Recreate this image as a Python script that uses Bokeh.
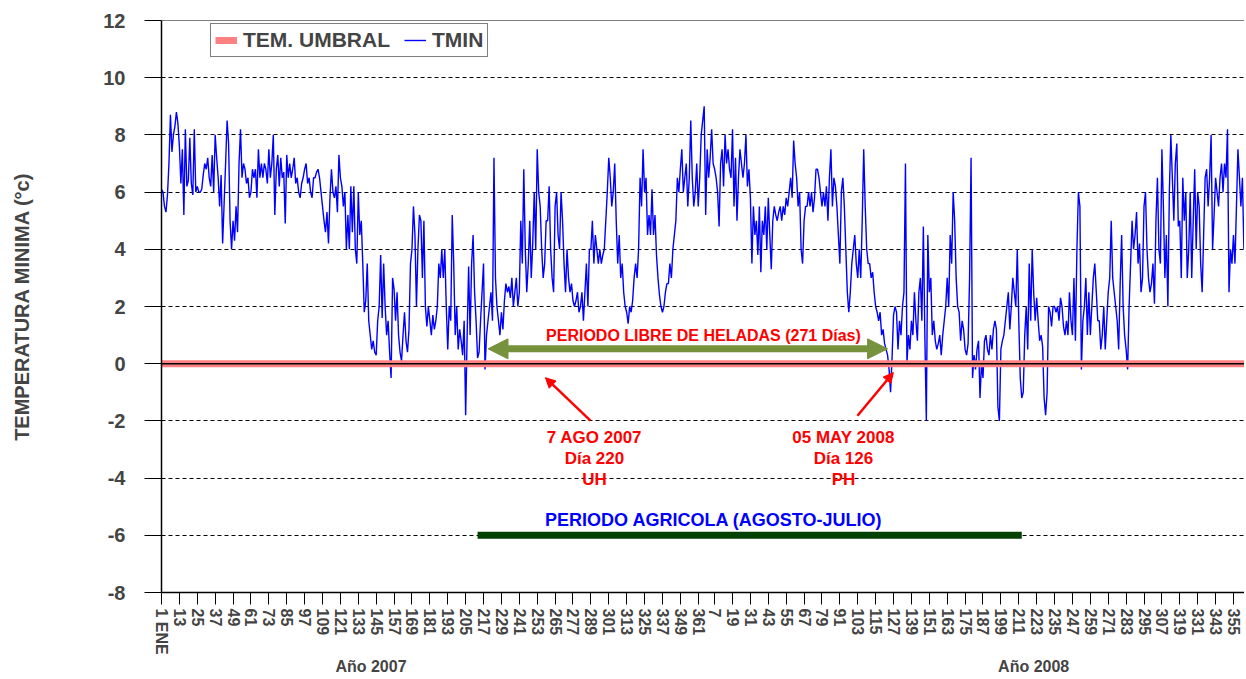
from bokeh.plotting import figure
from bokeh.models import (Range1d, FixedTicker, Legend, LegendItem, Label,
                          Arrow, NormalHead, LinearAxis, Span)
from bokeh.embed import file_html
from bokeh.resources import INLINE

# ---------------- data ----------------
TMIN_2007 = [
    6.1, 6.0, 5.5, 5.3, 5.9, 7.0, 8.7, 7.4, 8.0, 8.3,
    8.8, 8.4, 7.6, 6.3, 7.5, 5.2, 8.2, 6.2, 6.4, 7.9,
    6.3, 5.9, 8.2, 6.0, 6.2, 6.0, 6.0, 6.1, 6.6, 7.0,
    6.8, 7.2, 6.5, 6.2, 7.3, 6.0, 8.0, 7.2, 6.5, 5.5,
    6.6, 4.2, 5.6, 7.0, 8.5, 7.7, 5.0, 4.0, 5.0, 4.3,
    5.5, 4.6, 7.0, 8.2, 6.5, 7.0, 6.8, 6.3, 6.5, 5.8,
    6.0, 6.8, 6.5, 6.8, 5.8, 7.5, 6.5, 7.0, 6.5, 7.0,
    6.8, 6.3, 7.5, 6.5, 7.0, 8.0, 5.2, 6.8, 7.3, 6.2,
    7.2, 6.5, 6.7, 4.9, 7.3, 6.5, 7.0, 6.5, 6.8, 7.2,
    6.3, 6.5, 6.0, 5.8, 6.3, 6.5, 6.8, 7.0, 6.3, 6.5,
    6.0, 5.8, 6.5, 6.5, 6.7, 6.8, 6.5, 6.0, 5.5, 5.0,
    4.6, 5.3, 4.2, 5.8, 6.8, 6.0, 5.8, 6.2, 5.3, 7.3,
    6.5, 6.2, 5.5, 6.0, 4.0, 5.2, 4.0, 6.2, 4.6, 6.2,
    4.0, 3.5, 6.0, 4.5, 5.0, 3.5, 1.8, 2.2, 3.5, 1.5,
    1.0, 0.5, 0.8, 0.4, 0.3, 1.5, 2.0, 3.8, 1.6, 3.5,
    2.0, 1.0, 1.5, 0.4, -0.5, 3.0, 2.6, 1.5, 2.5, 1.0,
    0.4, 0.1, 1.0, 1.8, 0.8, 0.4, 1.2, 3.5, 4.0, 5.5,
    4.5, 2.0, 4.0, 5.2, 5.0, 3.0, 5.0, 2.0, 1.3, 2.0,
    1.5, 1.0, 1.7, 1.2, 1.5, 2.0, 3.5, 3.0, 4.0, 3.0,
    4.0, 2.0, 0.5, 2.0, 1.5, 5.2, 3.5, 1.0, 2.0, 0.5,
    1.2, 0.8, 0.3, 1.5, -1.8, 1.0, 3.4, 1.0, 3.5, 4.5,
    2.5, 1.5, 0.2, 0.4, 1.5, 2.5, 3.5, -0.2, 1.0, 1.5,
    2.0, 2.5, 1.5, 7.2, 3.0, 2.0, 1.5, 1.0, 1.8, 1.2,
    2.2, 2.8, 2.5, 2.7, 2.3, 3.0, 2.0, 2.5, 3.0, 2.0,
    2.5, 5.0, 3.5, 6.8, 4.0, 2.5, 3.5, 5.0, 3.0, 4.2,
    6.0, 4.0, 7.5, 6.0, 5.5, 4.0, 3.0, 3.5, 5.0, 5.0,
    6.2, 4.0, 3.0, 2.5, 5.5, 6.0, 4.5, 4.0, 6.0, 5.0,
    3.5, 2.5, 4.0, 3.0, 2.5, 2.8, 2.2, 2.0, 2.2, 2.5,
    1.8, 2.0, 2.5, 1.5, 2.5, 3.5, 2.0, 4.0, 4.0, 5.0,
    3.5, 4.5, 4.0, 3.5, 4.0, 3.5, 3.8, 4.0, 5.0, 6.0,
    7.2, 6.5, 5.5, 6.0, 7.0, 5.0, 3.5, 4.5, 3.0, 3.5,
    2.5, 2.0, 1.8, 1.4, 2.0, 1.8, 2.2, 3.0, 3.5, 3.0,
    4.0, 6.5, 5.5, 7.5, 6.0, 6.5, 4.5, 5.2, 4.5, 6.1,
    4.5, 5.2, 3.8, 3.0, 2.4, 2.0, 1.8, 2.0, 2.5, 2.8,
    2.8, 3.5, 3.0, 4.0, 4.5, 5.0, 6.5, 6.0, 6.8, 7.5,
    6.0, 6.5, 7.0, 5.5, 6.5, 8.5, 6.5, 5.5, 6.0, 7.0,
    5.5, 6.5, 8.0, 8.5, 9.0,
]
TMIN_2008 = [
    5.2, 7.5, 6.5, 7.2, 8.2,
    7.0, 6.8, 6.5, 6.0, 4.8, 7.0, 7.5, 6.2, 8.0, 7.0,
    7.5, 6.8, 6.5, 8.2, 5.5, 7.2, 5.0, 6.5, 7.5, 7.0,
    6.5, 7.0, 8.0, 6.2, 6.8, 5.8, 3.5, 5.5, 4.5, 5.0,
    3.8, 5.5, 3.2, 5.0, 4.5, 5.5, 4.0, 5.8, 4.5, 3.3,
    5.0, 5.5, 5.2, 5.0, 5.3, 5.5, 5.0, 5.5, 5.2, 5.8,
    5.5, 6.0, 6.5, 5.8, 7.8, 7.0, 6.5, 5.5, 6.0, 4.0,
    3.5, 5.0, 5.5, 5.5, 6.0, 5.5, 6.0, 5.3, 5.8, 6.8,
    6.8, 6.5, 6.0, 5.5, 6.0, 5.5, 6.2, 5.0, 6.5, 7.5,
    5.5, 6.5, 6.2, 5.5, 4.5, 3.5, 6.0, 6.5, 5.5, 4.0,
    2.5, 1.8, 2.5, 3.5, 4.0, 4.5, 3.5, 3.0, 4.0, 3.0,
    5.0, 7.5, 5.5, 4.0, 3.5, 3.5, 3.0, 3.2, 2.5, 2.0,
    1.8, 1.5, 1.8, 1.0, 1.2, 0.7, 0.5, 0.3, -0.2, -1.0,
    0.2, 1.7, 2.0, 1.8, 0.5, 1.5, 1.0, 2.0, 2.5, 7.0,
    0.0, 1.0, 0.5, 1.5, 1.0, 2.5, 1.5, 0.8, 2.5, 3.0,
    1.5, 4.8, 1.0, -2.0, 4.5, 2.5, 3.0, 1.0, 1.5, 0.8,
    0.5, 0.7, 1.0, 0.3, 1.0, 1.5, 2.0, 3.0, 2.0, 4.5,
    3.5, 6.0, 5.0, 3.0, 2.0, 1.8, 0.8, 1.5, 1.2, 0.5,
    0.3, 0.7, 3.0, 7.2, -0.5, 0.3, -0.2, 0.5, 0.8, -1.2,
    0.0, -0.5, 0.8, 1.0, 0.5, 0.3, 1.0, 0.5, 1.2, 1.5,
    1.2, -1.5, -2.0, 0.5, 0.8, 1.0, 1.5, 2.0, 2.5, 1.2,
    2.0, 3.0, 2.5, 2.0, 4.0, 1.5, -0.5, -1.2, -1.0, 1.0,
    2.0, 0.5, 3.5, 1.5, 4.0, 2.5, 1.5, 2.3, 1.5, 0.8,
    1.0, 0.6, -1.2, -1.8, -1.0, 2.0, 1.8, 1.3, 2.0, 2.0,
    1.8, 2.0, 1.5, 2.3, 2.0, 1.3, 1.0, 1.5, 1.0, 2.5,
    1.5, 1.0, 3.0, 0.8, 4.0, 6.0, 5.5, -0.2, 1.5, 2.0,
    3.0, 1.0, 2.5, 1.0, 2.0, 3.0, 3.5, 2.5, 1.5, 1.5,
    0.5, 1.0, 2.0, 0.5, 1.5, 2.5, 3.0, 5.0, 3.0, 2.5,
    2.0, 1.5, 0.5, 2.8, 4.5, 2.0, 1.0, 0.5, -0.2, 2.0,
    3.5, 5.0, 4.0, 4.5, 5.3, 3.5, 4.2, 2.5, 3.0, 5.5,
    6.0, 4.0, 3.0, 2.5, 2.8, 3.5, 2.1, 5.0, 6.5, 4.0,
    3.5, 7.5, 5.5, 3.0, 4.5, 2.0, 6.0, 8.0, 6.5, 5.0,
    7.0, 7.7, 4.8, 5.0, 3.0, 6.5, 5.0, 6.0, 3.0, 4.0,
    6.0, 3.0, 5.0, 6.8, 4.0, 6.0, 5.5, 3.5, 2.5, 4.5,
    6.5, 6.8, 5.5, 6.5, 8.0, 4.0, 5.2, 6.5, 6.0, 5.5,
    6.5, 7.0, 6.0, 7.0, 6.5, 8.2, 2.5, 4.0, 3.5, 4.5,
    3.5, 5.5, 7.5, 6.5, 5.5, 6.5, 4.0, 6.0, 5.0, 3.5,
    6.0,
]
TMIN = TMIN_2007 + TMIN_2008
DAYS = list(range(1, len(TMIN) + 1))

UMBRAL_X = [1, len(TMIN)]
UMBRAL_Y = [0.0, 0.0]

TICKS_2007 = list(range(1, 366, 12))        # 1, 13, ..., 361
TICKS_2008 = list(range(7, 366, 12))        # 7, 19, ..., 355
TICK_POS = TICKS_2007 + [365 + d for d in TICKS_2008]
TICK_LABELS = ["1 ENE"] + [str(d) for d in TICKS_2007[1:]] + [str(d) for d in TICKS_2008]

YEAR_POS = [143, 586]
YEAR_LABELS = ["Año  2007", "Año 2008"]

Y_TICKS = list(range(-8, 13, 2))
Y_LABELS = [str(v) for v in Y_TICKS]
GRID_TICKS = [-6, -4, -2, 2, 4, 6, 8, 10]

# frost-free period and agricultural period (days)
LIBRE_START, LIBRE_END = 220, 488
AGRIC_START, AGRIC_END = 213, 578

FONT = "Liberation Sans"

p = figure(width=1244, height=677, x_range=Range1d(1, 727.4), y_range=Range1d(-8, 12),
           output_backend="svg", toolbar_location=None,
           min_border_left=161, min_border_top=20, min_border_right=0, min_border_bottom=84)
p.background_fill_color = "white"
p.border_fill_color = "white"
p.outline_line_color = None
p.add_layout(Span(location=12, dimension="width", line_color="black", line_width=1))

# grid
p.xgrid.visible = False
p.ygrid.ticker = FixedTicker(ticks=GRID_TICKS)
p.ygrid.grid_line_color = "black"
p.ygrid.grid_line_dash = "4 3"
p.ygrid.grid_line_width = 1

# y axis
p.yaxis.ticker = FixedTicker(ticks=Y_TICKS)
p.yaxis.major_label_overrides = {t: l for t, l in zip(Y_TICKS, Y_LABELS)}
p.yaxis.major_tick_out = 17
p.yaxis.major_tick_in = 0
p.yaxis.minor_tick_out = 0
p.yaxis.minor_tick_in = 0
p.yaxis.axis_line_color = "black"
p.yaxis.axis_line_width = 1.5
p.yaxis.major_tick_line_width = 1
p.yaxis.major_label_text_font = FONT
p.yaxis.major_label_text_font_style = "bold"
p.yaxis.major_label_text_font_size = "20px"
p.yaxis.major_label_standoff = 19
p.yaxis.axis_label = "TEMPERATURA MINIMA (°c)"
p.yaxis.axis_label_text_font = FONT
p.yaxis.axis_label_text_font_style = "bold"
p.yaxis.axis_label_text_font_size = "20px"
p.yaxis.axis_label_standoff = 67

# x axis
p.xaxis.ticker = FixedTicker(ticks=TICK_POS)
p.xaxis.major_label_overrides = {t: l for t, l in zip(TICK_POS, TICK_LABELS)}
p.xaxis.major_label_orientation = "vertical"
p.xaxis.major_tick_out = 12
p.xaxis.major_tick_in = 0
p.xaxis.minor_tick_out = 0
p.xaxis.minor_tick_in = 0
p.xaxis.axis_line_color = "black"
p.xaxis.axis_line_width = 1.5
p.xaxis.major_label_text_font = FONT
p.xaxis.major_label_text_font_style = "bold"
p.xaxis.major_label_text_font_size = "16px"
p.xaxis.major_label_standoff = 4

# second axis below carrying the year labels
year_axis = LinearAxis(ticker=FixedTicker(ticks=YEAR_POS),
                       major_label_overrides={t: l for t, l in zip(YEAR_POS, YEAR_LABELS)})
year_axis.axis_line_color = None
year_axis.major_tick_line_color = None
year_axis.minor_tick_line_color = None
year_axis.major_tick_out = 0
year_axis.major_tick_in = 0
year_axis.major_label_standoff = 0
year_axis.major_label_text_font = FONT
year_axis.major_label_text_font_style = "bold"
year_axis.major_label_text_font_size = "16px"
p.add_layout(year_axis, "below")

# series
r_tmin = p.line(DAYS, TMIN, line_color="#0000FF", line_width=1.4)
r_umbral = p.line(UMBRAL_X, UMBRAL_Y, line_color="#FF8080", line_width=7)
p.line(UMBRAL_X, UMBRAL_Y, line_color="black", line_width=1.5)

# agricultural period bar
p.line([AGRIC_START, AGRIC_END], [-6, -6], line_color="#004000", line_width=7)
p.add_layout(Label(x=371.5, y=-5.48, text="PERIODO AGRICOLA (AGOSTO-JULIO)",
                   text_align="center", text_baseline="middle", text_color="#0000FF",
                   text_font=FONT, text_font_style="bold", text_font_size="18px"))

# frost-free arrow
green = "#76923C"
p.add_layout(Arrow(x_start=LIBRE_START, y_start=0.52, x_end=LIBRE_END, y_end=0.52,
                   line_color=green, line_width=7,
                   start=NormalHead(size=20, fill_color=green, line_color=green),
                   end=NormalHead(size=20, fill_color=green, line_color=green)))
p.add_layout(Label(x=364.5, y=0.98, text="PERIODO LIBRE DE HELADAS (271 Días)",
                   text_align="center", text_baseline="middle", text_color="#FF0000",
                   text_font=FONT, text_font_style="bold", text_font_size="16px"))

# red arrows
for xs, ys, xe, ye in [(288.7, -1.99, 258.5, -0.49), (467.8, -1.82, 491.9, -0.31)]:
    p.add_layout(Arrow(x_start=xs, y_start=ys, x_end=xe, y_end=ye, line_color="#FF0000", line_width=2.5,
                       end=NormalHead(size=10, fill_color="#FF0000", line_color="#FF0000")))

for cx, lines in [(291.4, ["7 AGO 2007", "Día 220", "UH"]), (458.4, ["05 MAY 2008", "Día 126", "PH"])]:
    for yv, t in zip([-2.58, -3.32, -4.05], lines):
        p.add_layout(Label(x=cx, y=yv, text=t, text_align="center", text_baseline="middle",
                           text_color="#FF0000", text_font=FONT, text_font_style="bold",
                           text_font_size="17px"))

# legend
legend = Legend(items=[LegendItem(label="TEM. UMBRAL", renderers=[r_umbral]),
                       LegendItem(label="TMIN", renderers=[r_tmin])],
                orientation="horizontal", location=(49, 535))
legend.label_text_font = FONT
legend.label_text_font_style = "bold"
legend.label_text_font_size = "21px"
legend.glyph_width = 22
legend.label_standoff = 6
legend.spacing = 14
legend.padding = 4
legend.margin = 0
legend.border_line_color = "black"
legend.border_line_width = 1.5
legend.background_fill_alpha = 1
p.add_layout(legend)

open("out.html", "w").write(file_html(p, INLINE))
